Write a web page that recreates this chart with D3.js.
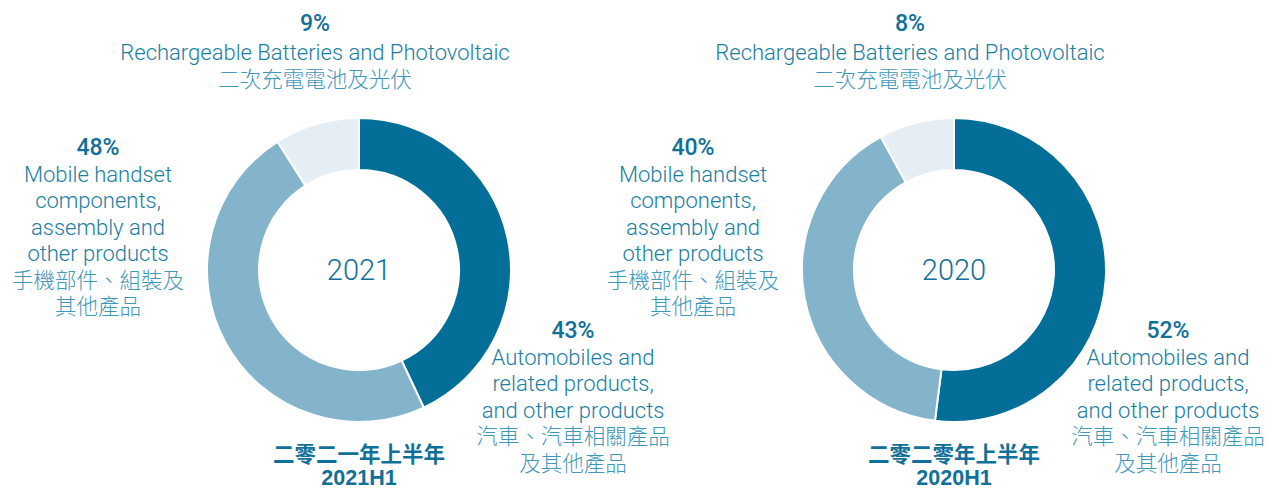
<!DOCTYPE html>
<html><head><meta charset="utf-8">
<script src="https://cdn.jsdelivr.net/npm/d3@7"></script>
<style>
html,body{margin:0;padding:0;background:#fff;}
svg{display:block;}
</style>
</head><body>
<svg id="chart" width="1268" height="490"></svg>
<script>
const categories = ["Automobiles", "Mobile", "Batteries"];
const years = ["2021", "2020"];
const periodLabelsZh = ["二零二一年上半年", "二零二零年上半年"];
const periodLabelsEn = ["2021H1", "2020H1"];
const values2021 = [43, 48, 9];
const values2020 = [52, 40, 8];
const catLabelsEn = [
  ["Automobiles and", "related products,", "and other products"],
  ["Mobile handset", "components,", "assembly and", "other products"],
  ["Rechargeable Batteries and Photovoltaic"]
];
const catLabelsZh = [
  ["汽車、汽車相關產品", "及其他產品"],
  ["手機部件、組裝及", "其他產品"],
  ["二次充電電池及光伏"]
];
const colors = ["#036f98", "#83b4cb", "#e6eef5"];

const svg = d3.select("#chart");
const font = "Roboto, 'Liberation Sans', Arial, sans-serif";
const cjk = "'Noto Sans CJK TC', 'Noto Sans CJK SC', sans-serif";
const enColor = "#1a7ea3";
const zhColor = "#3f97ba";
const pctColor = "#10709a";
const lh = 26.5;

const centersX = [359, 954];
const cy = 270;
const outerR = 152, innerR = 100;

const labelPos = [
  [214, 68],
  [-261, -115],
  [-44, -239]
];
const firstGap = [lh, lh, 29];

const pie = d3.pie().sort(null).value(d => d);
const arc = d3.arc().innerRadius(innerR).outerRadius(outerR);

[values2021, values2020].forEach((vals, i) => {
  const g = svg.append("g").attr("transform", `translate(${centersX[i]},${cy})`);
  g.selectAll("path").data(pie(vals)).join("path")
    .attr("d", arc)
    .attr("fill", (d, j) => colors[j])
    .attr("stroke", "#fff")
    .attr("stroke-width", 2);

  g.append("text").attr("text-anchor", "middle").attr("y", 10)
    .attr("font-family", font).attr("font-size", 29).attr("font-weight", 300)
    .attr("fill", pctColor).text(years[i]);

  vals.forEach((v, j) => {
    const [lx, ly] = labelPos[j];
    const t = g.append("text").attr("text-anchor", "middle")
      .attr("transform", `translate(${lx},${ly})`);
    t.append("tspan").attr("x", 0).attr("y", 0)
      .attr("font-family", font).attr("font-size", 23).attr("font-weight", 500)
      .attr("fill", pctColor).text(v + "%");
    let y = firstGap[j];
    catLabelsEn[j].forEach(s => {
      t.append("tspan").attr("x", 0).attr("y", y)
        .attr("font-family", font).attr("font-size", 22).attr("font-weight", 300)
        .attr("fill", enColor).text(s);
      y += lh;
    });
    catLabelsZh[j].forEach(s => {
      t.append("tspan").attr("x", 0).attr("y", y)
        .attr("font-family", cjk).attr("font-size", 21.5).attr("font-weight", 300)
        .attr("fill", zhColor).text(s);
      y += lh;
    });
  });

  const b = g.append("text").attr("text-anchor", "middle")
    .attr("font-weight", 700).attr("fill", pctColor);
  b.append("tspan").attr("x", 0).attr("y", 192)
    .attr("font-family", cjk).attr("font-size", 21.5).text(periodLabelsZh[i]);
  b.append("tspan").attr("x", 0).attr("y", 215)
    .attr("font-family", "'Liberation Sans', Arial, sans-serif").attr("font-size", 21.5)
    .text(periodLabelsEn[i]);
});
</script>
</body></html>
